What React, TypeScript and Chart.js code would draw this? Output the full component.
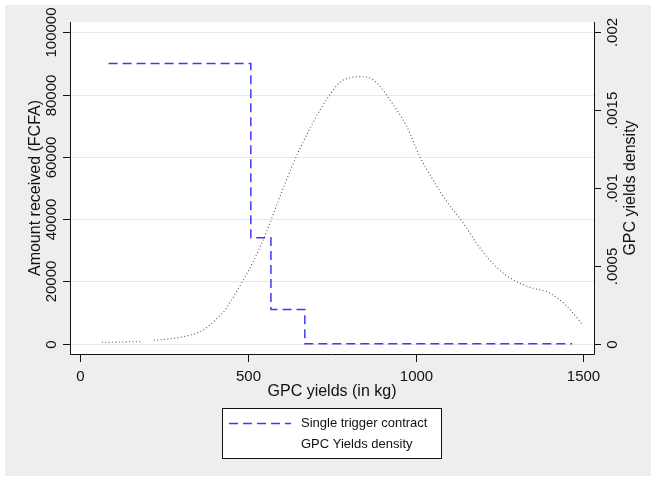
import React, { useEffect, useRef } from "react";
import { Chart, registerables } from "chart.js";

Chart.register(...registerables);

// ---- data ----
const xTickValues = [0, 500, 1000, 1500];
const xTickLabels = ["0", "500", "1000", "1500"];
const leftTickValues = [0, 20000, 40000, 60000, 80000, 100000];
const leftTickLabels = ["0", "20000", "40000", "60000", "80000", "100000"];
const rightTickValues = [0, 0.0005, 0.001, 0.0015, 0.002];
const rightTickLabels = ["0", ".0005", ".001", ".0015", ".002"];

// Single trigger contract: payout steps (yield threshold -> payout)
const contractYield = [85, 509, 569, 670, 1467];
const contractPayout = [90000, 34000, 11000, 0, 0];

// GPC yields kernel density (null = gap in the curve)
const densityYield = [
  65, 100, 140, 180, 200, 220, 270, 318, 358, 380, 407, 430, 457, 487, 517, 556, 586,
  636, 680, 715, 745, 775, 810, 840, 870, 895, 924, 974, 1013, 1050, 1091, 1143, 1182,
  1220, 1262, 1292, 1320, 1351, 1391, 1431, 1460, 1495,
];
const densityValue = [
  0.000009, 0.00001, 0.000012, 0.000013, null, 0.000022, 0.000032, 0.00005, 0.000077,
  0.000108, 0.00016, 0.00021, 0.0003, 0.00041, 0.00053, 0.00072, 0.00089, 0.00116,
  0.00136, 0.0015, 0.0016, 0.00168, 0.00171, 0.001715, 0.0017, 0.00165, 0.001565,
  0.001394, 0.0012, 0.00106, 0.00092, 0.000773, 0.000645, 0.00054, 0.000452, 0.00041,
  0.00038, 0.000356, 0.000334, 0.00028, 0.00022, 0.000131,
];

const seriesNames = ["Single trigger contract", "GPC Yields density"];
const xTitle = "GPC yields (in kg)";
const leftTitle = "Amount received (FCFA)";
const rightTitle = "GPC yields density";

const FONT = '"Liberation Sans", Arial, Helvetica, sans-serif';
const BLUE = "#3a3aff";
const DENS = "#555555";

const stataPlugin = {
  id: "stataDecor",
  beforeDraw(chart: any) {
    const { ctx, chartArea: a, width, height } = chart;
    const yl = chart.scales.yLeft;
    ctx.save();
    ctx.fillStyle = "#ffffff";
    ctx.fillRect(0, 0, width, height);
    ctx.fillStyle = "#eeeeee";
    ctx.fillRect(5, 5, width - 5, height - 6);
    ctx.fillStyle = "#ffffff";
    ctx.fillRect(a.left, a.top, a.right - a.left, a.bottom - a.top);
    ctx.strokeStyle = "#e8e8e8";
    ctx.lineWidth = 1;
    leftTickValues.forEach((v) => {
      const y = Math.round(yl.getPixelForValue(v)) + 0.5;
      ctx.beginPath();
      ctx.moveTo(a.left, y);
      ctx.lineTo(a.right, y);
      ctx.stroke();
    });
    ctx.restore();
  },
  afterDatasetsDraw(chart: any) {
    const { ctx, chartArea: a } = chart;
    const xs = chart.scales.x;
    const yl = chart.scales.yLeft;
    const yr = chart.scales.yRight;
    ctx.save();
    ctx.strokeStyle = "#111111";
    ctx.lineWidth = 1;
    ctx.beginPath();
    ctx.moveTo(a.left + 0.5, a.top);
    ctx.lineTo(a.left + 0.5, a.bottom + 0.5);
    ctx.lineTo(a.right + 0.5, a.bottom + 0.5);
    ctx.lineTo(a.right + 0.5, a.top);
    ctx.stroke();

    ctx.fillStyle = "#111111";
    ctx.font = `15px ${FONT}`;
    // x ticks
    xTickValues.forEach((v, i) => {
      const x = Math.round(xs.getPixelForValue(v)) + 0.5;
      ctx.beginPath();
      ctx.moveTo(x, a.bottom);
      ctx.lineTo(x, a.bottom + 8);
      ctx.stroke();
      ctx.textAlign = "center";
      ctx.textBaseline = "alphabetic";
      ctx.fillText(xTickLabels[i], x, 381);
    });
    // left ticks
    leftTickValues.forEach((v, i) => {
      const y = Math.round(yl.getPixelForValue(v)) + 0.5;
      ctx.beginPath();
      ctx.moveTo(a.left - 7, y);
      ctx.lineTo(a.left, y);
      ctx.stroke();
      ctx.save();
      ctx.translate(56, y);
      ctx.rotate(-Math.PI / 2);
      ctx.textAlign = "center";
      ctx.textBaseline = "alphabetic";
      ctx.fillText(leftTickLabels[i], 0, 0);
      ctx.restore();
    });
    // right ticks
    rightTickValues.forEach((v, i) => {
      const y = Math.round(yr.getPixelForValue(v)) + 0.5;
      ctx.beginPath();
      ctx.moveTo(a.right, y);
      ctx.lineTo(a.right + 7, y);
      ctx.stroke();
      ctx.save();
      ctx.translate(617, y);
      ctx.rotate(-Math.PI / 2);
      ctx.textAlign = "center";
      ctx.textBaseline = "alphabetic";
      ctx.fillText(rightTickLabels[i], 0, 0);
      ctx.restore();
    });

    // titles
    ctx.font = `16px ${FONT}`;
    const midY = (a.top + a.bottom) / 2;
    ctx.textAlign = "center";
    ctx.textBaseline = "alphabetic";
    ctx.fillText(xTitle, (a.left + a.right) / 2, 396);
    ctx.save();
    ctx.translate(40, midY);
    ctx.rotate(-Math.PI / 2);
    ctx.fillText(leftTitle, 0, 0);
    ctx.restore();
    ctx.save();
    ctx.translate(635, midY);
    ctx.rotate(-Math.PI / 2);
    ctx.fillText(rightTitle, 0, 0);
    ctx.restore();

    // legend
    const lx = 222, ly = 408, lw = 219, lh = 50;
    ctx.fillStyle = "#ffffff";
    ctx.fillRect(lx, ly, lw, lh);
    ctx.strokeStyle = "#111111";
    ctx.strokeRect(lx + 0.5, ly + 0.5, lw, lh);
    ctx.strokeStyle = BLUE;
    ctx.lineWidth = 1.5;
    ctx.setLineDash([9, 5]);
    ctx.beginPath();
    ctx.moveTo(229, 423.5);
    ctx.lineTo(291, 423.5);
    ctx.stroke();
    ctx.setLineDash([]);
    ctx.fillStyle = "#111111";
    ctx.font = `13px ${FONT}`;
    ctx.textAlign = "left";
    ctx.textBaseline = "middle";
    ctx.fillText(seriesNames[0], 301, 423.5);
    ctx.fillText(seriesNames[1], 301, 444.5);
    ctx.restore();
  },
};

export default function App() {
  const canvasRef = useRef<HTMLCanvasElement | null>(null);

  useEffect(() => {
    document.body.style.margin = "0";
    const canvas = canvasRef.current;
    if (!canvas) return;
    const contractData = contractYield.map((x, i) => ({ x, y: contractPayout[i] }));
    const densityData = densityYield.map((x, i) => ({ x, y: densityValue[i] }));
    const chart = new Chart(canvas, {
      type: "line",
      data: {
        datasets: [
          {
            label: seriesNames[0],
            data: contractData as any,
            yAxisID: "yLeft",
            borderColor: BLUE,
            borderWidth: 1.5,
            borderDash: [9, 5],
            stepped: "before",
            pointRadius: 0,
            fill: false,
          },
          {
            label: seriesNames[1],
            data: densityData as any,
            yAxisID: "yRight",
            borderColor: DENS,
            borderWidth: 1.1,
            borderDash: [1, 2.4],
            tension: 0.4,
            cubicInterpolationMode: "monotone",
            spanGaps: false,
            pointRadius: 0,
            fill: false,
          },
        ],
      },
      options: {
        animation: false,
        responsive: false,
        devicePixelRatio: 1,
        layout: { padding: { left: 70, right: 57, top: 22, bottom: 123 } },
        plugins: { legend: { display: false }, tooltip: { enabled: false } },
        scales: {
          x: { type: "linear", display: false, min: -30, max: 1532 },
          yLeft: { type: "linear", position: "left", display: false, min: -3300, max: 103300 },
          yRight: { type: "linear", position: "right", display: false, min: -0.000066, max: 0.0020661 },
        },
      },
      plugins: [stataPlugin],
    });
    return () => chart.destroy();
  }, []);

  return (
    <div style={{ width: 651, height: 477 }}>
      <canvas ref={canvasRef} width={651} height={477} style={{ display: "block", width: 651, height: 477 }} />
    </div>
  );
}
